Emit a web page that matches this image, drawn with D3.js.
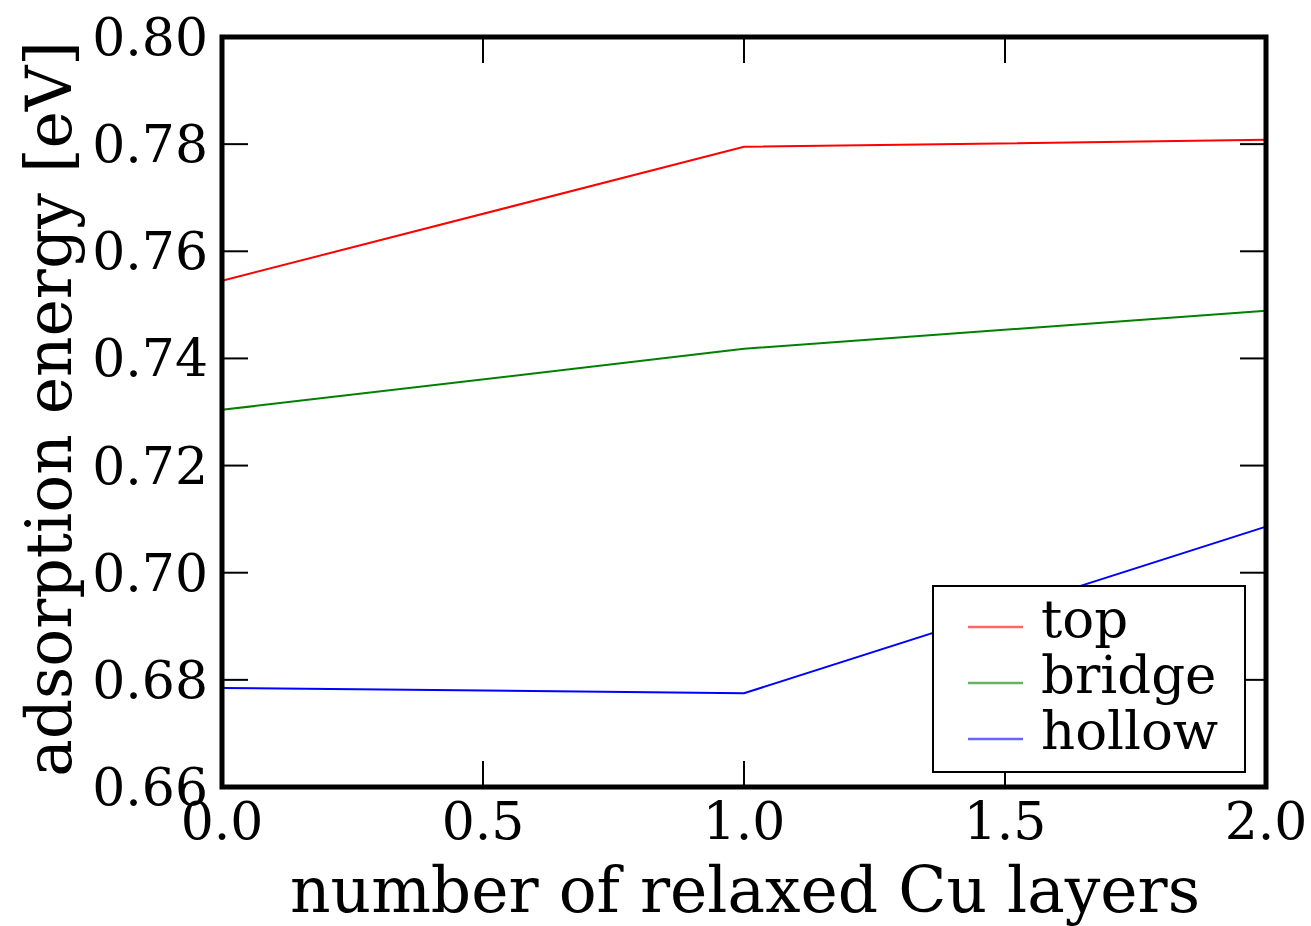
<!DOCTYPE html>
<html>
<head>
<meta charset="utf-8">
<script src="https://cdn.jsdelivr.net/npm/d3@7"></script>
<style>
  body { margin: 0; background: #fff; }
  text { font-family: "DejaVu Serif", serif; fill: #000; }
</style>
</head>
<body>
<script>
const width = 1311;
const height = 926;

// data
const layers = [0, 1, 2];
const topEnergy = [0.7545, 0.7795, 0.7808];
const bridgeEnergy = [0.7304, 0.7418, 0.7489];
const hollowEnergy = [0.6785, 0.6775, 0.7086];
const seriesNames = ["top", "bridge", "hollow"];
const seriesColors = ["#ff0000", "#008000", "#0000ff"];
const xTicks = [0, 0.5, 1.0, 1.5, 2.0];
const yTicks = [0.66, 0.68, 0.70, 0.72, 0.74, 0.76, 0.78, 0.80];

const series = [topEnergy, bridgeEnergy, hollowEnergy].map((vals, i) => ({
  name: seriesNames[i],
  color: seriesColors[i],
  points: vals.map((v, j) => [layers[j], v])
}));

const margin = { left: 222, right: 45, top: 37, bottom: 139 };

const x = d3.scaleLinear().domain([0, 2]).range([margin.left, width - margin.right]);
const y = d3.scaleLinear().domain([0.66, 0.80]).range([height - margin.bottom, margin.top]);

const svg = d3.select("body")
  .append("svg")
  .attr("width", width)
  .attr("height", height);

// lines
const line = d3.line().x(d => x(d[0])).y(d => y(d[1]));

svg.append("g")
  .selectAll("path")
  .data(series)
  .join("path")
  .attr("d", d => line(d.points))
  .attr("fill", "none")
  .attr("stroke", d => d.color)
  .attr("stroke-width", 2);

// ticks, inward on all four sides
const tickLen = 26;
const tickG = svg.append("g").attr("stroke", "#000").attr("stroke-width", 2);

xTicks.forEach(t => {
  tickG.append("line").attr("x1", x(t)).attr("x2", x(t))
    .attr("y1", y(0.66)).attr("y2", y(0.66) - tickLen);
  tickG.append("line").attr("x1", x(t)).attr("x2", x(t))
    .attr("y1", y(0.80)).attr("y2", y(0.80) + tickLen);
});
yTicks.forEach(t => {
  tickG.append("line").attr("x1", x(0)).attr("x2", x(0) + tickLen)
    .attr("y1", y(t)).attr("y2", y(t));
  tickG.append("line").attr("x1", x(2)).attr("x2", x(2) - tickLen)
    .attr("y1", y(t)).attr("y2", y(t));
});

// tick labels
svg.append("g")
  .selectAll("text")
  .data(xTicks)
  .join("text")
  .attr("x", d => x(d))
  .attr("y", y(0.66) + 52)
  .attr("text-anchor", "middle")
  .attr("font-size", 52)
  .text(d => d3.format(".1f")(d));

svg.append("g")
  .selectAll("text")
  .data(yTicks)
  .join("text")
  .attr("x", x(0) - 14)
  .attr("y", d => y(d) + 18)
  .attr("text-anchor", "end")
  .attr("font-size", 52)
  .text(d => d3.format(".2f")(d));

// frame
svg.append("rect")
  .attr("x", x(0))
  .attr("y", y(0.80))
  .attr("width", x(2) - x(0))
  .attr("height", y(0.66) - y(0.80))
  .attr("fill", "none")
  .attr("stroke", "#000")
  .attr("stroke-width", 5);

// axis titles
svg.append("text")
  .attr("x", (x(0) + x(2)) / 2 + 1)
  .attr("y", 912)
  .attr("text-anchor", "middle")
  .attr("font-size", 63)
  .text("number of relaxed Cu layers");

svg.append("text")
  .attr("transform", `translate(71, ${(y(0.66) + y(0.80)) / 2 - 3}) rotate(-90)`)
  .attr("text-anchor", "middle")
  .attr("font-size", 63)
  .text("adsorption energy [eV]");

// legend
const legend = svg.append("g").attr("transform", "translate(933, 586)");
legend.append("rect")
  .attr("width", 312)
  .attr("height", 186)
  .attr("fill", "#fff")
  .attr("stroke", "#000")
  .attr("stroke-width", 2);

const rows = legend.selectAll("g.row")
  .data(series)
  .join("g")
  .attr("class", "row")
  .attr("transform", (d, i) => `translate(0, ${41 + i * 56})`);

rows.append("line")
  .attr("x1", 35).attr("x2", 90)
  .attr("stroke", d => d.color)
  .attr("stroke-opacity", 0.6)
  .attr("stroke-width", 2.5);

rows.append("text")
  .attr("x", 108)
  .attr("y", 10)
  .attr("font-size", 53)
  .text(d => d.name);
</script>
</body>
</html>
